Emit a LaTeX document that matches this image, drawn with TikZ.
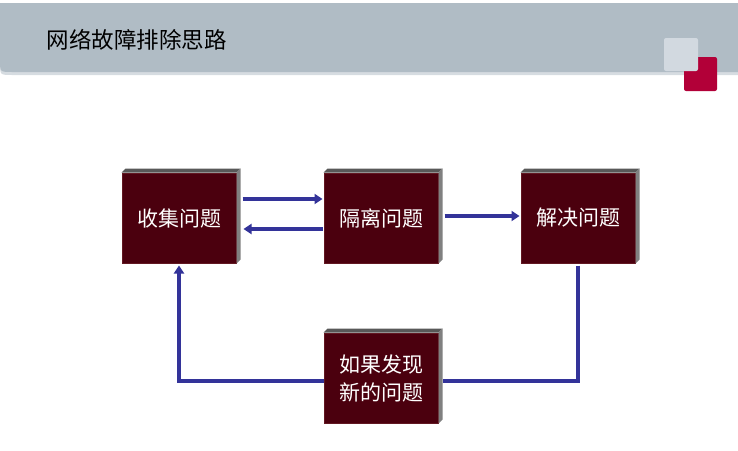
\documentclass[tikz,border=0pt]{standalone}
\usepackage{fontspec}
\newfontfamily\cjk{Noto Sans CJK SC}
\usetikzlibrary{arrows.meta,positioning}
\usepackage{xcolor}
\definecolor{headgray}{RGB}{176,188,197}
\definecolor{headshade}{RGB}{214,220,225}
\definecolor{lightsq}{RGB}{210,217,224}
\definecolor{redsq}{RGB}{178,0,56}
\definecolor{boxred}{RGB}{75,0,14}
\definecolor{boxedge}{RGB}{98,24,34}
\definecolor{boxtop}{RGB}{88,88,88}
\definecolor{boxside}{RGB}{128,128,128}
\definecolor{flowblue}{RGB}{51,51,153}

\begin{document}
\begin{tikzpicture}[x=1pt,y=-1pt,
    stepbox/.style={rectangle, fill=boxred, draw=boxedge, line width=1pt,
        minimum width=114pt, minimum height=90pt, inner sep=0pt,
        text=white, align=center, font=\cjk\fontsize{21}{28}\selectfont},
    flow/.style={draw=flowblue, line width=3.2pt, -{Triangle[length=8pt,width=10pt]}},
    flowline/.style={draw=flowblue, line width=3.2pt}]
    \useasboundingbox (0,0) rectangle (738,450);

    % Header band
    \fill[headshade] (0,4) -- (738,4) -- (738,75) -- (12,75) .. controls (0,75) .. (0,63) -- cycle;
    \fill[headgray] (0,3) -- (738,3) -- (738,72) -- (12,72) .. controls (0,72) .. (0,60) -- cycle;
    \node[anchor=west, font=\cjk\fontsize{22.5}{24}\selectfont] (title) at (43,40) {网络故障排除思路};

    % Corner squares
    \fill[redsq, rounded corners=2pt] (684,57) rectangle (717,91);
    \fill[lightsq, rounded corners=2pt] (664,38) rectangle (698,71);

    % Steps
    \node[stepbox] (collect) at (179,218) {\raisebox{-3pt}{收集问题}};
    \node[stepbox] (isolate) at (381,218) {\raisebox{-3pt}{隔离问题}};
    \node[stepbox] (solve) at (578,218) {\raisebox{-3pt}{解决问题}};
    \node[stepbox] (newprob) at (381,378) {如果发现\\新的问题};

    % Bevels
    \foreach \n in {collect,isolate,solve,newprob} {
        \fill[boxtop] (\n.north west) -- ++(4,-4) -- ([shift={(4,-4)}]\n.north east) -- (\n.north east) -- cycle;
        \fill[boxside] (\n.north east) -- ++(4,-4) -- ([shift={(4,-4)}]\n.south east) -- (\n.south east) -- cycle;
    }

    % Connectors
    \draw[flow] ([xshift=6pt,yshift=19pt]collect.east) -- ([xshift=-1pt,yshift=19pt]isolate.west);
    \draw[flow] ([xshift=-1pt,yshift=-11pt]isolate.west) -- ([xshift=7pt,yshift=-11pt]collect.east);
    \draw[flow] ([xshift=6pt,yshift=2pt]isolate.east) -- ([xshift=-1pt,yshift=2pt]solve.west);
    \draw[flowline] ([yshift=-2pt]solve.south) |- ([xshift=4pt,yshift=-3pt]newprob.east);
    \draw[flow] ([yshift=-3pt]newprob.west) -| ([yshift=-2pt]collect.south);
\end{tikzpicture}
\end{document}
